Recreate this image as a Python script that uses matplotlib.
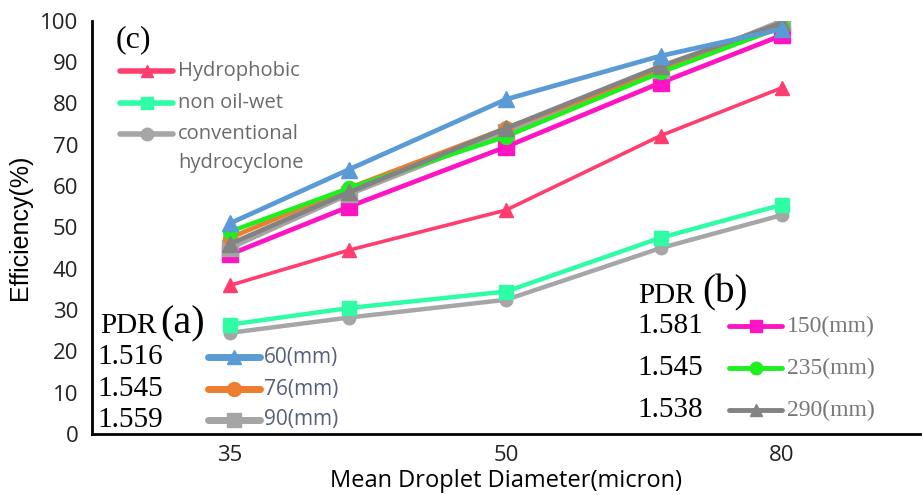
import matplotlib
matplotlib.use("Agg")
import matplotlib.pyplot as plt
from matplotlib.lines import Line2D

# ---- data ----
diam_labels = ["35", "50", "80"]
x_pos = [0, 0.43, 1, 1.56, 2]          # category positions of the five measurements

eff_60 = [51, 64, 81, 91.5, 98]
eff_76 = [47.5, 59.5, 74, 88, 98.5]
eff_90 = [45, 58, 73, 88, 100]
eff_150 = [43.5, 55, 69.5, 85, 96.5]
eff_235 = [49, 59.5, 72, 87.5, 98.5]
eff_290 = [46, 58.5, 74, 89, 99.5]
eff_hydrophobic = [36, 44.5, 54.2, 72.2, 83.8]
eff_nonoilwet = [26.5, 30.5, 34.5, 47.5, 55.5]
eff_conventional = [24.5, 28.2, 32.5, 45, 53]

pdr_a = ["1.516", "1.545", "1.559"]
lab_a = ["60(mm)", "76(mm)", "90(mm)"]
pdr_b = ["1.581", "1.545", "1.538"]
lab_b = ["150(mm)", "235(mm)", "290(mm)"]
lab_c = ["Hydrophobic", "non oil-wet", "conventional", "hydrocyclone"]

# ---- style ----
C60, C76, C90 = "#5B9BD5", "#ED7D31", "#A5A5A5"
C150, C235, C290 = "#FF14C4", "#1EF01E", "#838383"
CHYD, CNOW, CCON = "#FF3D6E", "#2EFDA6", "#A6A6A6"

SANS = ["Open Sans", "DejaVu Sans"]
ARIAL = ["Liberation Sans", "DejaVu Sans"]
SERIF = ["Liberation Serif", "DejaVu Serif"]

fig = plt.figure(figsize=(9.22, 4.95), dpi=100)
ax = fig.add_axes([0.0998, 0.123, 0.898, 0.835])

series = [
    (eff_conventional, CCON, "o", 3.2, 9),
    (eff_nonoilwet, CNOW, "s", 3.2, 10),
    (eff_hydrophobic, CHYD, "^", 2.6, 10),
    (eff_150, C150, "s", 3.4, 11),
    (eff_90, C90, "s", 3.4, 12),
    (eff_76, C76, "o", 3.4, 10),
    (eff_235, C235, "o", 3.2, 10),
    (eff_290, C290, "^", 3.4, 11),
    (eff_60, C60, "^", 3.4, 11),
]
for ys, c, m, lw, ms in series:
    ax.plot(x_pos, ys, color=c, marker=m, lw=lw, ms=ms, mec=c, mfc=c)

ax.set_xlim(-0.5, 2.5)
ax.set_ylim(0, 100)
ax.set_xticks([0, 1, 2])
ax.set_xticklabels(diam_labels)
ax.set_yticks(range(0, 101, 10))
ax.tick_params(length=0, labelsize=16)
ax.tick_params(axis="x", pad=8)
ax.tick_params(axis="y", pad=10)
for lbl in ax.get_xticklabels() + ax.get_yticklabels():
    lbl.set_fontfamily(SANS)
    lbl.set_color("#222222")
for s in ["top", "right"]:
    ax.spines[s].set_visible(False)
for s in ["left", "bottom"]:
    ax.spines[s].set_linewidth(2)
    ax.spines[s].set_color("black")

ax.set_xlabel("Mean Droplet Diameter(micron)", fontsize=17, family=SANS, labelpad=2)
ax.set_ylabel("Efficiency(%)", fontsize=18, family=ARIAL, labelpad=6)

W, H = 922.0, 495.0


def fx(px):
    return px / W


def fy(py):
    return 1 - py / H


def leg_line(x0, x1, y, c, m, lw, ms):
    ln = Line2D([fx(x0), fx(x1)], [fy(y), fy(y)], transform=fig.transFigure,
                color=c, lw=lw, solid_capstyle="round")
    fig.add_artist(ln)
    mk = Line2D([fx((x0 + x1) / 2)], [fy(y)], transform=fig.transFigure,
                color=c, marker=m, ms=ms, mec=c, mfc=c, lw=0)
    fig.add_artist(mk)


# legend (c)
fig.text(fx(116), fy(40), "(c)", fontsize=23, family=SERIF, va="center", ha="left")
c_items = [(CHYD, "^", 71), (CNOW, "s", 103), (CCON, "o", 134)]
for c, m, y in c_items:
    leg_line(120, 173, y, c, m, 4, 9)
c_rows = [71, 103, 134, 163]
for t, y in zip(lab_c, c_rows):
    fig.text(fx(178), fy(y), t, fontsize=14.5, family=SANS, color="#6a6a6a", va="center")

# legend (a)
fig.text(fx(100), fy(326), "PDR", fontsize=21, family=SERIF, va="center", ha="left")
fig.text(fx(160), fy(324), "(a)", fontsize=29, family=SERIF, va="center", ha="left")
a_items = [(C60, "^", 357), (C76, "o", 389), (C90, "s", 420)]
for (c, m, y), p, t in zip(a_items, pdr_a, lab_a):
    fig.text(fx(97), fy(y), p, fontsize=21, family=SERIF, va="center", ha="left")
    leg_line(208, 260, y, c, m, 5, 10)
    fig.text(fx(264), fy(y), t, fontsize=15, family=SANS, color="#55607a", va="center")

# legend (b)
fig.text(fx(638), fy(296), "PDR", fontsize=21, family=SERIF, va="center", ha="left")
fig.text(fx(702), fy(293), "(b)", fontsize=28, family=SERIF, va="center", ha="left")
b_items = [(C150, "s", 326), (C235, "o", 368), (C290, "^", 410)]
for (c, m, y), p, t in zip(b_items, pdr_b, lab_b):
    fig.text(fx(637), fy(y), p, fontsize=21, family=SERIF, va="center", ha="left")
    leg_line(729, 782, y, c, m, 3.5, 9)
    fig.text(fx(787), fy(y), t, fontsize=17, family=SERIF, color="#777777", va="center")

fig.savefig("out.png", dpi=100)
